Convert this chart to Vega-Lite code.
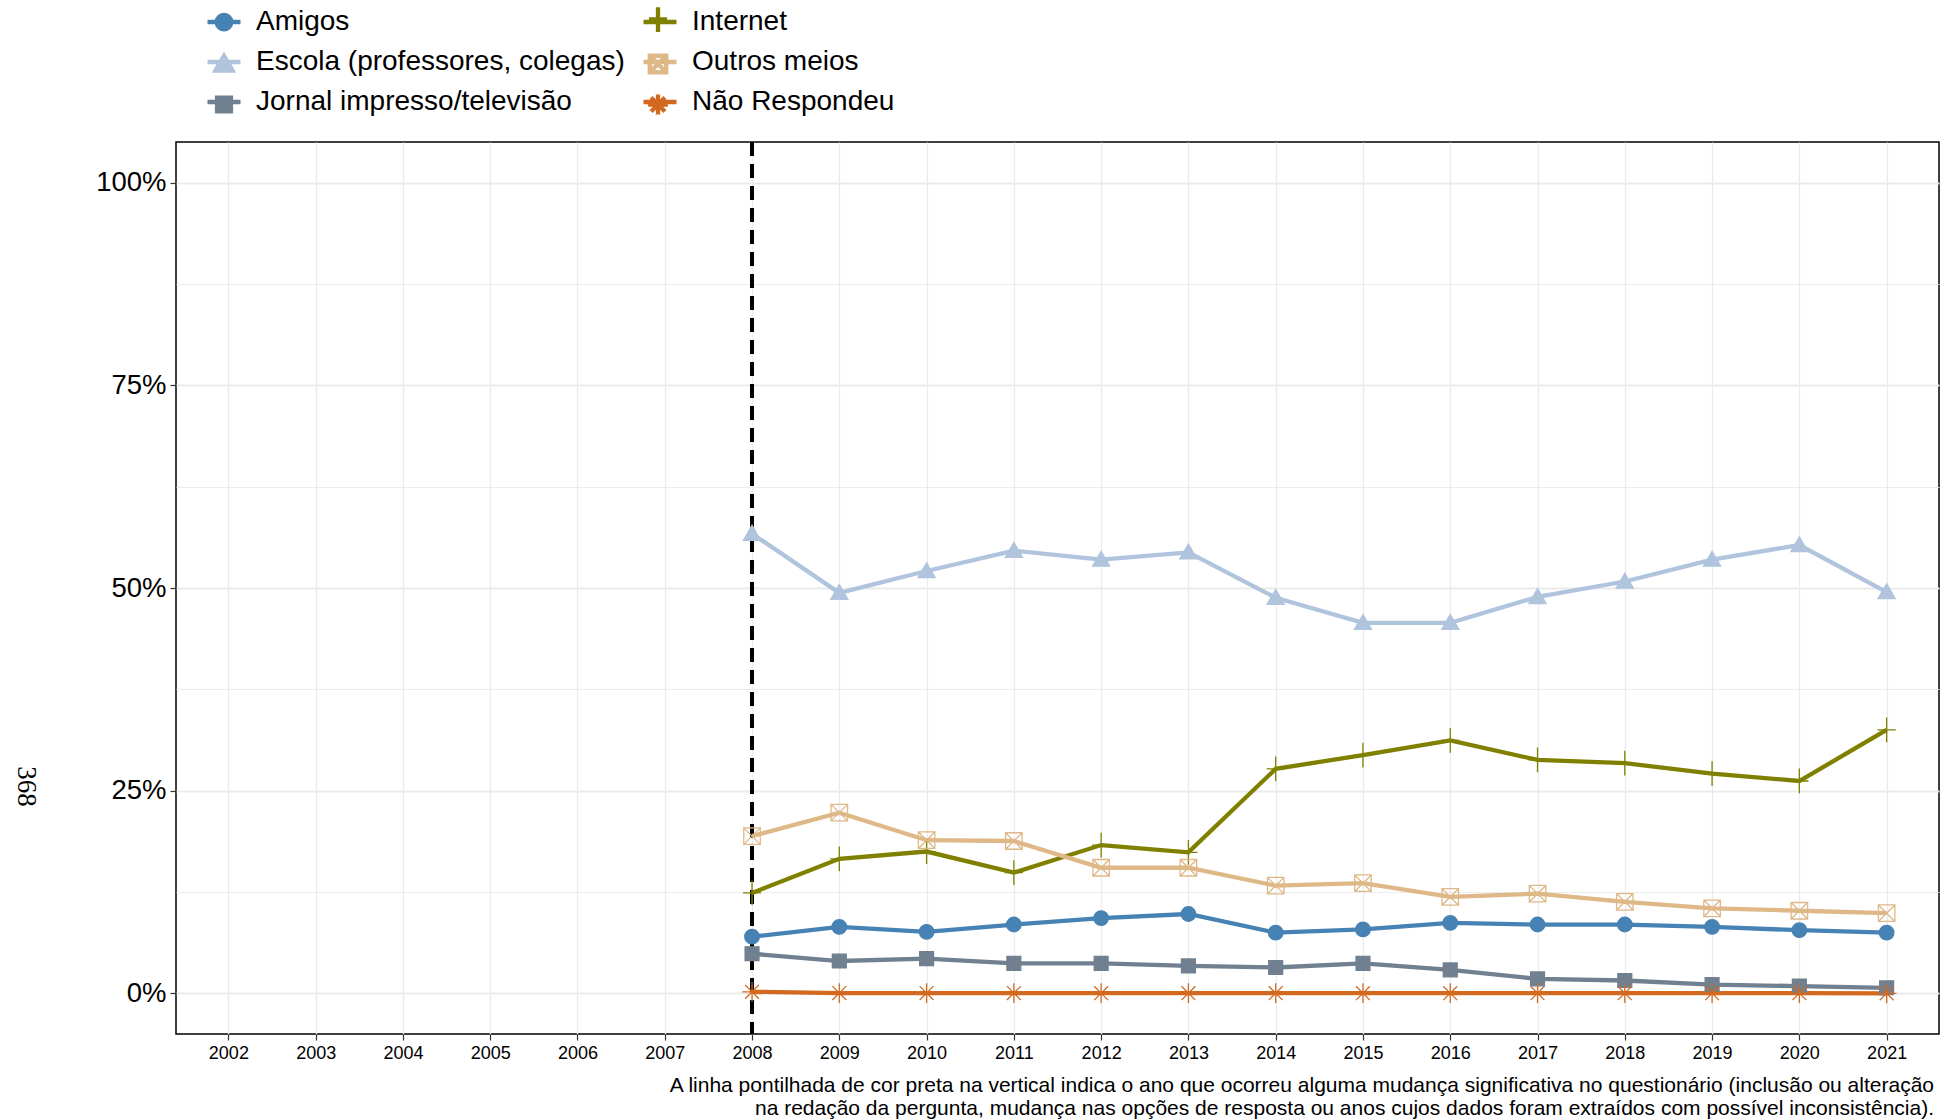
{
  "$schema": "https://vega.github.io/schema/vega-lite/v6.json",
  "width": 1763,
  "height": 892,
  "autosize": {"type": "none"},
  "padding": {"left": 176, "top": 142, "right": 1, "bottom": 85},
  "background": "white",
  "config": {
    "view": {"stroke": "black", "strokeWidth": 1.5},
    "font": "Liberation Sans"
  },
  "title": {
    "text": ["A linha pontilhada de cor preta na vertical indica o ano que ocorreu alguma mudança significativa no questionário (inclusão ou alteração", "na redação da pergunta, mudança nas opções de resposta ou anos cujos dados foram extraídos com possível inconsistência)."],
    "orient": "bottom",
    "anchor": "end",
    "align": "right",
    "font": "Liberation Sans",
    "fontSize": 21,
    "fontWeight": "normal",
    "color": "black",
    "lineHeight": 23,
    "offset": 13,
    "dx": -5
  },
  "data": {
    "values": [
      {"ano": 2008, "serie": "Amigos", "pct": 7.0},
      {"ano": 2009, "serie": "Amigos", "pct": 8.2},
      {"ano": 2010, "serie": "Amigos", "pct": 7.6},
      {"ano": 2011, "serie": "Amigos", "pct": 8.5},
      {"ano": 2012, "serie": "Amigos", "pct": 9.3},
      {"ano": 2013, "serie": "Amigos", "pct": 9.8},
      {"ano": 2014, "serie": "Amigos", "pct": 7.5},
      {"ano": 2015, "serie": "Amigos", "pct": 7.9},
      {"ano": 2016, "serie": "Amigos", "pct": 8.7},
      {"ano": 2017, "serie": "Amigos", "pct": 8.5},
      {"ano": 2018, "serie": "Amigos", "pct": 8.5},
      {"ano": 2019, "serie": "Amigos", "pct": 8.2},
      {"ano": 2020, "serie": "Amigos", "pct": 7.8},
      {"ano": 2021, "serie": "Amigos", "pct": 7.5},
      {"ano": 2008, "serie": "Escola (professores, colegas)", "pct": 56.7},
      {"ano": 2009, "serie": "Escola (professores, colegas)", "pct": 49.4},
      {"ano": 2010, "serie": "Escola (professores, colegas)", "pct": 52.1},
      {"ano": 2011, "serie": "Escola (professores, colegas)", "pct": 54.6},
      {"ano": 2012, "serie": "Escola (professores, colegas)", "pct": 53.5},
      {"ano": 2013, "serie": "Escola (professores, colegas)", "pct": 54.4},
      {"ano": 2014, "serie": "Escola (professores, colegas)", "pct": 48.8},
      {"ano": 2015, "serie": "Escola (professores, colegas)", "pct": 45.7},
      {"ano": 2016, "serie": "Escola (professores, colegas)", "pct": 45.7},
      {"ano": 2017, "serie": "Escola (professores, colegas)", "pct": 48.9},
      {"ano": 2018, "serie": "Escola (professores, colegas)", "pct": 50.8},
      {"ano": 2019, "serie": "Escola (professores, colegas)", "pct": 53.5},
      {"ano": 2020, "serie": "Escola (professores, colegas)", "pct": 55.3},
      {"ano": 2021, "serie": "Escola (professores, colegas)", "pct": 49.5},
      {"ano": 2008, "serie": "Jornal impresso/televisão", "pct": 4.9},
      {"ano": 2009, "serie": "Jornal impresso/televisão", "pct": 4.0},
      {"ano": 2010, "serie": "Jornal impresso/televisão", "pct": 4.3},
      {"ano": 2011, "serie": "Jornal impresso/televisão", "pct": 3.7},
      {"ano": 2012, "serie": "Jornal impresso/televisão", "pct": 3.7},
      {"ano": 2013, "serie": "Jornal impresso/televisão", "pct": 3.4},
      {"ano": 2014, "serie": "Jornal impresso/televisão", "pct": 3.2},
      {"ano": 2015, "serie": "Jornal impresso/televisão", "pct": 3.7},
      {"ano": 2016, "serie": "Jornal impresso/televisão", "pct": 2.9},
      {"ano": 2017, "serie": "Jornal impresso/televisão", "pct": 1.8},
      {"ano": 2018, "serie": "Jornal impresso/televisão", "pct": 1.6},
      {"ano": 2019, "serie": "Jornal impresso/televisão", "pct": 1.1},
      {"ano": 2020, "serie": "Jornal impresso/televisão", "pct": 0.9},
      {"ano": 2021, "serie": "Jornal impresso/televisão", "pct": 0.7},
      {"ano": 2008, "serie": "Internet", "pct": 12.4},
      {"ano": 2009, "serie": "Internet", "pct": 16.6},
      {"ano": 2010, "serie": "Internet", "pct": 17.5},
      {"ano": 2011, "serie": "Internet", "pct": 14.9},
      {"ano": 2012, "serie": "Internet", "pct": 18.3},
      {"ano": 2013, "serie": "Internet", "pct": 17.4},
      {"ano": 2014, "serie": "Internet", "pct": 27.7},
      {"ano": 2015, "serie": "Internet", "pct": 29.4},
      {"ano": 2016, "serie": "Internet", "pct": 31.2},
      {"ano": 2017, "serie": "Internet", "pct": 28.8},
      {"ano": 2018, "serie": "Internet", "pct": 28.4},
      {"ano": 2019, "serie": "Internet", "pct": 27.1},
      {"ano": 2020, "serie": "Internet", "pct": 26.2},
      {"ano": 2021, "serie": "Internet", "pct": 32.5},
      {"ano": 2008, "serie": "Outros meios", "pct": 19.4},
      {"ano": 2009, "serie": "Outros meios", "pct": 22.3},
      {"ano": 2010, "serie": "Outros meios", "pct": 18.9},
      {"ano": 2011, "serie": "Outros meios", "pct": 18.8},
      {"ano": 2012, "serie": "Outros meios", "pct": 15.5},
      {"ano": 2013, "serie": "Outros meios", "pct": 15.5},
      {"ano": 2014, "serie": "Outros meios", "pct": 13.3},
      {"ano": 2015, "serie": "Outros meios", "pct": 13.6},
      {"ano": 2016, "serie": "Outros meios", "pct": 11.9},
      {"ano": 2017, "serie": "Outros meios", "pct": 12.3},
      {"ano": 2018, "serie": "Outros meios", "pct": 11.3},
      {"ano": 2019, "serie": "Outros meios", "pct": 10.5},
      {"ano": 2020, "serie": "Outros meios", "pct": 10.2},
      {"ano": 2021, "serie": "Outros meios", "pct": 9.9},
      {"ano": 2008, "serie": "Não Respondeu", "pct": 0.2},
      {"ano": 2009, "serie": "Não Respondeu", "pct": 0.05},
      {"ano": 2010, "serie": "Não Respondeu", "pct": 0.05},
      {"ano": 2011, "serie": "Não Respondeu", "pct": 0.05},
      {"ano": 2012, "serie": "Não Respondeu", "pct": 0.03},
      {"ano": 2013, "serie": "Não Respondeu", "pct": 0.03},
      {"ano": 2014, "serie": "Não Respondeu", "pct": 0.03},
      {"ano": 2015, "serie": "Não Respondeu", "pct": 0.03},
      {"ano": 2016, "serie": "Não Respondeu", "pct": 0.03},
      {"ano": 2017, "serie": "Não Respondeu", "pct": 0.03},
      {"ano": 2018, "serie": "Não Respondeu", "pct": 0.03},
      {"ano": 2019, "serie": "Não Respondeu", "pct": 0.03},
      {"ano": 2020, "serie": "Não Respondeu", "pct": 0.03},
      {"ano": 2021, "serie": "Não Respondeu", "pct": 0.02}
    ]
  },
  "encoding": {
    "x": {
      "field": "ano",
      "type": "quantitative",
      "scale": {"domain": [2001.4, 2021.6], "nice": false, "zero": false},
      "axis": {
        "title": null,
        "values": [2002, 2003, 2004, 2005, 2006, 2007, 2008, 2009, 2010, 2011, 2012, 2013, 2014, 2015, 2016, 2017, 2018, 2019, 2020, 2021],
        "format": "d",
        "labelFont": "Liberation Sans",
        "labelFontSize": 18,
        "labelColor": "black",
        "labelPadding": 4,
        "tickColor": "#333333",
        "tickSize": 6,
        "tickWidth": 1.2,
        "domain": false,
        "grid": true,
        "gridColor": "#EBEBEB",
        "gridWidth": 1.3,
        "labelFlush": false,
        "labelOverlap": false
      }
    },
    "y": {
      "field": "pct",
      "type": "quantitative",
      "scale": {"domain": [-5, 105], "nice": false, "zero": false},
      "axis": {
        "title": "368",
        "titleFont": "Liberation Serif",
        "titleFontSize": 27,
        "titleFontWeight": "normal",
        "titleColor": "black",
        "titleAngle": 90,
        "titleX": -151,
        "titleY": 644,
        "titleAlign": "center",
        "titleBaseline": "middle",
        "values": [0, 12.5, 25, 37.5, 50, 62.5, 75, 87.5, 100],
        "labelExpr": "datum.value % 25 === 0 ? datum.value + '%' : ''",
        "labelFont": "Liberation Sans",
        "labelFontSize": 27.5,
        "labelColor": "black",
        "labelPadding": 4,
        "tickColor": "#333333",
        "tickSize": 6,
        "tickWidth": 1.2,
        "tickOpacity": {"condition": {"test": "datum.value % 25 === 0", "value": 1}, "value": 0},
        "domain": false,
        "grid": true,
        "gridColor": "#EBEBEB",
        "gridWidth": {"condition": {"test": "datum.value % 25 === 0", "value": 1.8}, "value": 0.9}
      }
    }
  },
  "layer": [
    {
      "mark": {"type": "rule", "color": "black", "strokeWidth": 3.5, "strokeDash": [14, 8]},
      "encoding": {"x": {"datum": 2008}, "y": null}
    },
    {
      "mark": {"type": "line", "strokeWidth": 4.3},
      "encoding": {
        "color": {
          "field": "serie",
          "type": "nominal",
          "scale": {
            "domain": ["Amigos", "Escola (professores, colegas)", "Jornal impresso/televisão", "Internet", "Outros meios", "Não Respondeu"],
            "range": ["#4682B4", "#B0C4DE", "#708090", "#808000", "#DEB887", "#D2691E"]
          },
          "legend": {
            "title": null,
            "orient": "none",
            "legendX": 29,
            "legendY": -139,
            "columns": 2,
            "padding": 0,
            "symbolType": "stroke",
            "symbolSize": 1089,
            "symbolStrokeWidth": 4.3,
            "labelFont": "Liberation Sans",
            "labelFontSize": 28,
            "labelColor": "black",
            "labelOffset": 13,
            "columnPadding": 9,
            "rowPadding": 7,
            "labelLimit": 800
          }
        }
      }
    },
    {
      "mark": {"type": "point", "strokeWidth": 1.3, "opacity": 1, "size": 1089},
      "encoding": {
        "stroke": {
          "field": "serie",
          "type": "nominal",
          "scale": {
            "domain": ["Amigos", "Escola (professores, colegas)", "Jornal impresso/televisão", "Internet", "Outros meios", "Não Respondeu"],
            "range": ["#4682B4", "#B0C4DE", "#708090", "#808000", "#DEB887", "#D2691E"]
          },
          "legend": {
            "title": null,
            "orient": "none",
            "legendX": 29,
            "legendY": -141.5,
            "columns": 2,
            "padding": 0,
            "symbolSize": 1089,
            "symbolStrokeWidth": 4.3,
            "labelFont": "Liberation Sans",
            "labelFontSize": 28,
            "labelExpr": "' '",
            "labelOffset": 13,
            "columnPadding": 383,
            "rowPadding": 4.5,
            "labelLimit": 800,
            "encode": {"symbols": {"update": {"strokeWidth": {"value": 1.3}}}}
          }
        },
        "fill": {
          "field": "serie",
          "type": "nominal",
          "scale": {
            "domain": ["Amigos", "Escola (professores, colegas)", "Jornal impresso/televisão", "Internet", "Outros meios", "Não Respondeu"],
            "range": ["#4682B4", "#B0C4DE", "#708090", "transparent", "transparent", "transparent"]
          },
          "legend": {
            "title": null,
            "orient": "none",
            "legendX": 29,
            "legendY": -141.5,
            "columns": 2,
            "padding": 0,
            "symbolSize": 1089,
            "symbolStrokeWidth": 4.3,
            "labelFont": "Liberation Sans",
            "labelFontSize": 28,
            "labelExpr": "' '",
            "labelOffset": 13,
            "columnPadding": 383,
            "rowPadding": 4.5,
            "labelLimit": 800,
            "encode": {"symbols": {"update": {"strokeWidth": {"value": 1.3}}}}
          }
        },
        "shape": {
          "field": "serie",
          "type": "nominal",
          "scale": {
            "domain": ["Amigos", "Escola (professores, colegas)", "Jornal impresso/televisão", "Internet", "Outros meios", "Não Respondeu"],
            "range": [
              "M0.44,0A0.44,0.44 0 1,1 -0.44,0A0.44,0.44 0 1,1 0.44,0Z",
              "M0,-0.5L0.52,0.4L-0.52,0.4Z",
              "M-0.42,-0.42H0.42V0.42H-0.42Z",
              "M-0.55,0H0.55M0,-0.75V0.75",
              "M-0.5,-0.5H0.5V0.5H-0.5ZM-0.5,-0.5L0.5,0.5M0.5,-0.5L-0.5,0.5",
              "M-0.6,0H0.6M0,-0.6V0.6M-0.42,-0.42L0.42,0.42M0.42,-0.42L-0.42,0.42"
            ]
          },
          "legend": {
            "title": null,
            "orient": "none",
            "legendX": 29,
            "legendY": -141.5,
            "columns": 2,
            "padding": 0,
            "symbolSize": 1089,
            "symbolStrokeWidth": 4.3,
            "labelFont": "Liberation Sans",
            "labelFontSize": 28,
            "labelExpr": "' '",
            "labelOffset": 13,
            "columnPadding": 383,
            "rowPadding": 4.5,
            "labelLimit": 800,
            "encode": {"symbols": {"update": {"strokeWidth": {"value": 1.3}}}}
          }
        }
      }
    }
  ],
  "resolve": {"legend": {"color": "independent"}}
}
